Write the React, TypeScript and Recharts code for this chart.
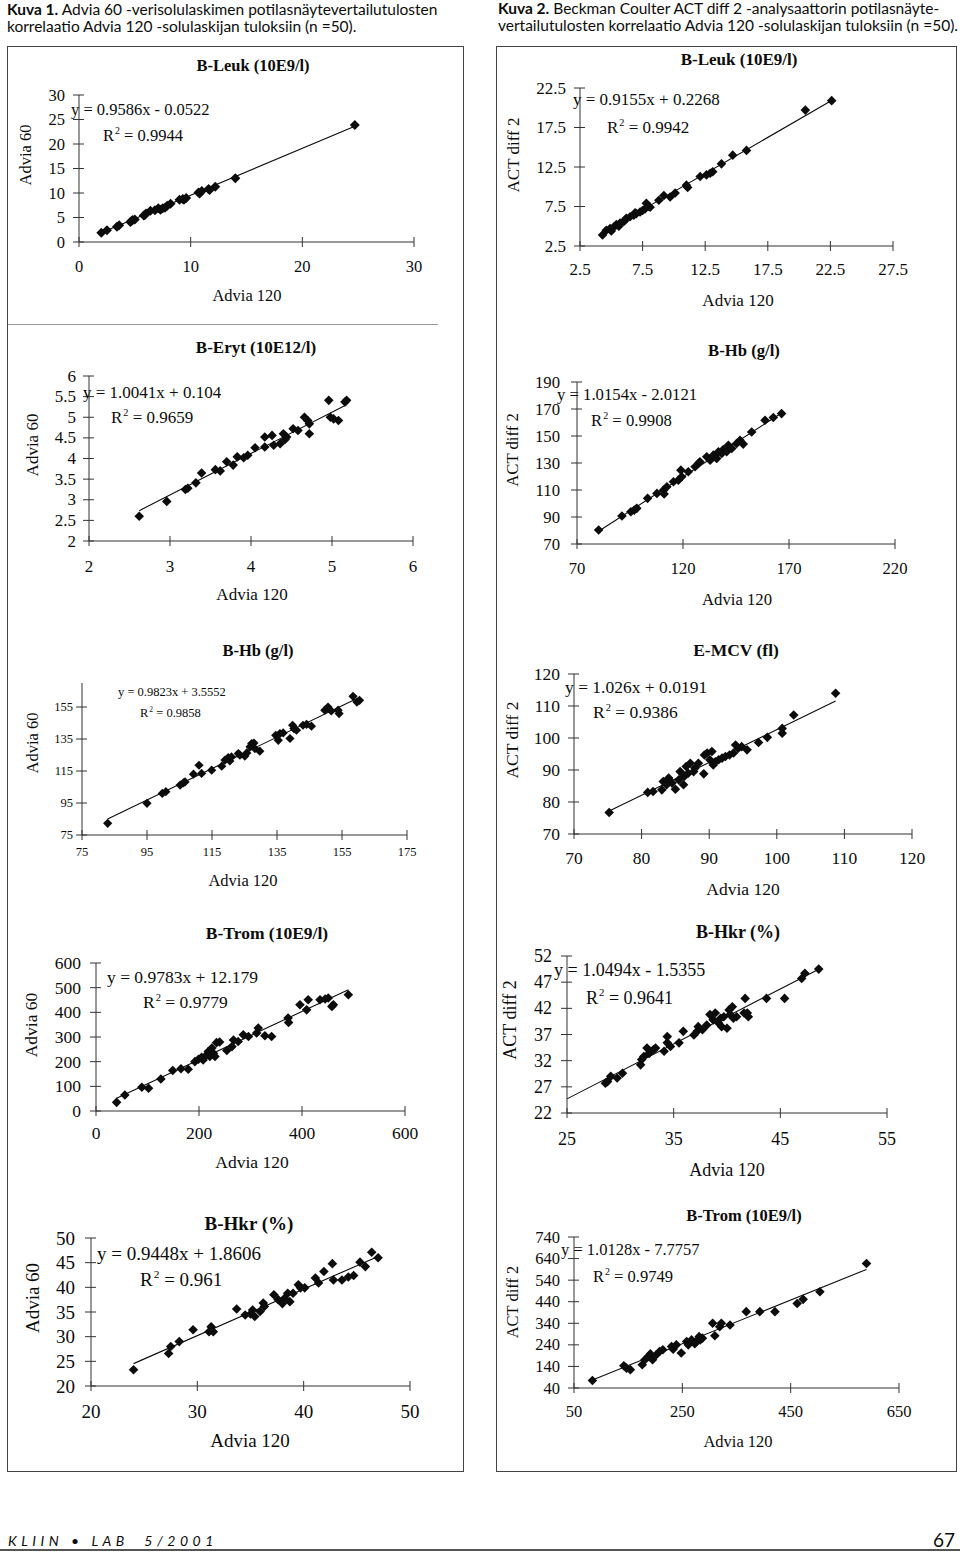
import React from 'react';
import { ScatterChart, Scatter, XAxis, YAxis, ReferenceLine } from 'recharts';

const SERIF = '"Liberation Serif", "Times New Roman", Times, serif';
const SANS = 'Lato, "Open Sans", "DejaVu Sans", sans-serif';
const INK = '#0c0c0c';
const AXIS = '#333333';

// ---------- Kuva 1 / B-Leuk (Advia 60 vs Advia 120) ----------
const leuk60X = [2.0, 2.5, 3.4, 3.6, 4.6, 4.7, 4.8, 5.0, 5.8, 5.9, 6.0, 6.4, 6.8, 7.1, 7.3, 7.5, 7.7, 7.9, 8.2, 9.0, 9.3, 9.4, 9.6, 10.7, 10.8, 11.0, 11.6, 11.7, 12.2, 14.0, 24.7];
const leuk60Y = [1.9, 2.4, 3.1, 3.4, 4.1, 4.3, 4.5, 4.6, 5.4, 5.5, 5.8, 6.4, 6.5, 6.9, 6.6, 6.9, 7.0, 7.4, 7.8, 8.6, 8.8, 8.6, 9.0, 10.1, 9.9, 10.4, 10.8, 10.6, 11.3, 13.0, 23.9];
const leuk60XTicks = [0, 10, 20, 30];
const leuk60YTicks = [0, 5, 10, 15, 20, 25, 30];
const leuk60Trend = [0.9586, -0.0522, 0.9944];

// ---------- Kuva 2 / B-Leuk (ACT diff 2 vs Advia 120) ----------
const leukActX = [4.3, 4.6, 4.9, 5.0, 5.2, 5.4, 5.6, 5.7, 6.0, 6.1, 6.2, 6.5, 6.8, 6.9, 7.0, 7.3, 7.5, 7.7, 7.8, 8.0, 8.1, 8.8, 9.2, 9.7, 10.1, 11.0, 11.1, 12.1, 12.6, 12.9, 13.1, 13.8, 14.7, 15.8, 20.5, 22.6];
const leukActY = [3.9, 4.5, 4.7, 4.4, 4.9, 5.2, 5.0, 5.4, 5.6, 5.8, 6.0, 6.2, 6.4, 6.7, 6.6, 6.8, 7.0, 7.2, 7.9, 7.5, 7.4, 8.3, 8.9, 8.7, 9.2, 10.2, 9.9, 11.3, 11.5, 11.7, 11.9, 12.9, 14.0, 14.6, 19.7, 20.9];
const leukActXTicks = [2.5, 7.5, 12.5, 17.5, 22.5, 27.5];
const leukActYTicks = [2.5, 7.5, 12.5, 17.5, 22.5];
const leukActTrend = [0.9155, 0.2268, 0.9942];

// ---------- B-Eryt ----------
const eryt60X = [2.62, 2.96, 3.19, 3.22, 3.32, 3.39, 3.56, 3.62, 3.70, 3.78, 3.83, 3.91, 3.96, 4.05, 4.17, 4.17, 4.26, 4.28, 4.36, 4.40, 4.42, 4.44, 4.52, 4.58, 4.66, 4.70, 4.72, 4.72, 4.96, 4.98, 5.02, 5.08, 5.16, 5.18];
const eryt60Y = [2.60, 2.96, 3.25, 3.28, 3.41, 3.65, 3.73, 3.70, 3.92, 3.84, 4.04, 4.02, 4.08, 4.26, 4.28, 4.52, 4.56, 4.32, 4.36, 4.60, 4.46, 4.52, 4.72, 4.68, 5.00, 4.92, 4.60, 4.84, 5.41, 5.00, 4.96, 4.92, 5.37, 5.41];
const eryt60XTicks = [2, 3, 4, 5, 6];
const eryt60YTicks = [2, 2.5, 3, 3.5, 4, 4.5, 5, 5.5, 6];
const eryt60Trend = [1.0041, 0.104, 0.9659];

// ---------- B-Hb (ACT diff 2) ----------
const hbActX = [80.2, 91.2, 95.4, 97.0, 98.2, 103.3, 107.7, 110.8, 111.1, 112.4, 115.5, 117.8, 119.4, 119.0, 122.5, 125.7, 127.3, 128.0, 131.2, 132.8, 134.3, 135.9, 136.7, 138.3, 139.0, 140.6, 141.4, 143.0, 145.3, 146.9, 148.4, 152.4, 158.7, 162.6, 166.5];
const hbActY = [80.4, 90.7, 93.9, 95.1, 96.4, 103.8, 107.5, 109.9, 107.0, 112.4, 116.1, 117.3, 119.8, 124.7, 123.5, 127.2, 129.7, 130.9, 134.6, 132.1, 135.8, 133.4, 138.3, 137.0, 140.0, 138.3, 143.2, 140.8, 144.5, 146.9, 144.0, 153.0, 161.7, 163.7, 166.6];
const hbActXTicks = [70, 120, 170, 220];
const hbActYTicks = [70, 90, 110, 130, 150, 170, 190];
const hbActTrend = [1.0154, -2.0121, 0.9908];

// ---------- B-Hb (Advia 60) ----------
const hb60X = [82.9, 95.0, 99.7, 100.8, 105.2, 106.2, 106.7, 109.3, 111.0, 111.8, 114.9, 118.0, 119.0, 120.0, 120.5, 121.0, 123.1, 123.6, 125.1, 125.7, 126.7, 127.2, 127.9, 128.2, 129.7, 134.6, 135.4, 135.9, 136.9, 139.0, 139.8, 140.2, 141.0, 143.0, 144.1, 145.6, 149.7, 150.7, 151.7, 153.8, 154.1, 158.4, 159.6, 160.4];
const hb60Y = [82.3, 94.8, 101.0, 102.1, 106.2, 107.6, 108.2, 113.0, 118.6, 113.5, 115.5, 118.0, 121.8, 123.4, 121.3, 123.8, 125.9, 124.9, 124.3, 126.3, 130.1, 132.2, 132.5, 129.0, 127.4, 137.3, 134.2, 138.4, 138.8, 135.3, 143.6, 141.5, 140.5, 143.6, 144.2, 143.0, 153.0, 155.0, 152.5, 153.0, 150.9, 161.7, 158.1, 159.2];
const hb60XTicks = [75, 95, 115, 135, 155, 175];
const hb60YTicks = [75, 95, 115, 135, 155];
const hb60YDomain = [75, 170];
const hb60Trend = [0.9823, 3.5552, 0.9858];

// ---------- E-MCV ----------
const mcvActX = [75.2, 80.9, 81.7, 83.0, 83.2, 83.7, 84.0, 84.5, 85.0, 85.5, 85.7, 86.2, 86.3, 86.6, 86.9, 87.2, 87.7, 87.9, 88.4, 89.2, 89.3, 89.7, 90.1, 90.4, 90.6, 90.9, 91.4, 91.9, 92.4, 93.0, 93.6, 93.9, 94.3, 94.8, 95.6, 97.3, 98.6, 100.8, 100.8, 102.5, 108.7];
const mcvActY = [76.7, 83.0, 83.3, 83.8, 86.4, 85.4, 87.5, 85.9, 84.0, 86.9, 89.5, 85.4, 88.0, 91.1, 89.0, 92.1, 89.5, 90.6, 92.1, 88.8, 94.7, 95.3, 93.2, 95.8, 91.6, 92.6, 93.2, 93.7, 94.2, 94.7, 95.3, 97.8, 96.8, 97.3, 96.3, 98.6, 100.2, 101.5, 103.0, 107.2, 114.0];
const mcvActTicks = [70, 80, 90, 100, 110, 120];
const mcvActTrend = [1.026, 0.0191, 0.9386];

// ---------- B-Trom (Advia 60) ----------
const trom60X = [40, 56, 89, 102, 126, 149, 165, 179, 192, 199, 205, 208, 215, 218, 221, 225, 228, 231, 234, 240, 254, 264, 267, 276, 286, 296, 312, 315, 328, 341, 373, 374, 396, 409, 412, 435, 445, 451, 458, 461, 490];
const trom60Y = [35, 65, 96, 92, 130, 164, 171, 169, 200, 210, 218, 207, 228, 241, 221, 255, 234, 221, 277, 280, 245, 261, 288, 282, 309, 302, 316, 336, 305, 302, 377, 359, 431, 410, 451, 451, 454, 458, 424, 431, 471];
const trom60XTicks = [0, 200, 400, 600];
const trom60YTicks = [0, 100, 200, 300, 400, 500, 600];
const trom60Trend = [0.9783, 12.179, 0.9779];

// ---------- B-Hkr (ACT diff 2) ----------
const hkrActX = [28.6, 28.8, 29.1, 29.7, 30.2, 31.9, 32.0, 32.2, 32.5, 32.7, 33.1, 33.3, 34.1, 34.4, 34.4, 34.7, 35.5, 35.9, 36.9, 37.2, 37.3, 37.7, 38.1, 38.4, 38.7, 38.9, 39.2, 39.4, 39.5, 39.7, 40.0, 40.2, 40.3, 40.5, 40.6, 40.9, 41.6, 41.7, 41.9, 42.0, 43.7, 45.4, 47.0, 47.3, 48.6];
const hkrActY = [27.7, 28.0, 29.0, 28.7, 29.6, 31.2, 32.2, 32.8, 34.4, 33.4, 34.1, 34.4, 33.8, 35.4, 36.6, 34.7, 35.4, 37.6, 36.9, 37.6, 38.5, 37.9, 38.8, 40.8, 39.8, 41.1, 39.2, 40.1, 38.5, 40.4, 38.2, 41.7, 40.8, 42.3, 40.1, 40.4, 41.1, 43.9, 41.1, 40.4, 43.9, 43.9, 47.7, 48.7, 49.5];
const hkrActXTicks = [25, 35, 45, 55];
const hkrActYTicks = [22, 27, 32, 37, 42, 47, 52];
const hkrActTrend = [1.0494, -1.5355, 0.9641];
const hkrActTrendStart = 25;

// ---------- B-Hkr (Advia 60) ----------
const hkr60X = [24.0, 27.3, 27.5, 28.3, 29.6, 31.1, 31.3, 31.5, 33.7, 34.5, 35.0, 35.2, 35.4, 35.9, 36.2, 36.3, 37.2, 37.6, 38.0, 38.2, 38.5, 38.7, 39.0, 39.5, 39.7, 40.1, 41.1, 41.4, 41.9, 42.7, 42.8, 43.6, 44.2, 44.7, 45.3, 45.8, 46.4, 47.0];
const hkr60Y = [23.3, 26.6, 28.0, 29.0, 31.4, 31.0, 32.0, 31.0, 35.6, 34.4, 34.6, 35.4, 34.1, 35.1, 36.8, 36.1, 38.5, 37.5, 36.7, 37.8, 38.8, 37.1, 38.8, 40.5, 39.9, 39.9, 41.9, 40.9, 43.2, 44.8, 41.5, 41.5, 42.1, 42.4, 45.1, 44.2, 47.1, 46.0];
const hkr60XTicks = [20, 30, 40, 50];
const hkr60YTicks = [20, 25, 30, 35, 40, 45, 50];
const hkr60Trend = [0.9448, 1.8606, 0.961];

// ---------- B-Trom (ACT diff 2) ----------
const tromActX = [84, 142, 147, 154, 176, 181, 187, 191, 195, 202, 208, 214, 230, 233, 239, 248, 258, 261, 267, 273, 276, 281, 283, 287, 306, 310, 319, 322, 338, 368, 393, 421, 462, 473, 504, 590];
const tromActY = [75, 143, 132, 125, 148, 171, 186, 198, 171, 194, 209, 217, 232, 220, 240, 202, 255, 240, 263, 245, 255, 278, 263, 271, 340, 282, 324, 340, 332, 394, 394, 394, 432, 451, 486, 617];
const tromActXTicks = [50, 250, 450, 650];
const tromActYTicks = [40, 140, 240, 340, 440, 540, 640, 740];
const tromActTrend = [1.0128, -7.7757, 0.9749];

type Spec = {
  title: string; yLabel: string;
  xs: number[]; ys: number[]; xTicks: number[]; yTicks: number[];
  yDomain?: number[]; trend: number[]; trendStart?: number;
  box: number[]; // px0, py0, px1, py1
  titlePos: number[]; yLabPos: number[]; xLabPos: number[]; eqPos: number[]; r2Pos: number[];
  fs: number; tickFs?: number; yGap: number; xDy: number; dot: number;
};

const specs: Spec[] = [
  { title: 'B-Leuk (10E9/l)', yLabel: 'Advia 60', xs: leuk60X, ys: leuk60Y, xTicks: leuk60XTicks, yTicks: leuk60YTicks, trend: leuk60Trend,
    box: [79, 95, 414, 242], titlePos: [253, 66], yLabPos: [26, 155], xLabPos: [247, 296], eqPos: [71, 110], r2Pos: [103, 136], fs: 16.5, yGap: 14, xDy: 24, dot: 5 },
  { title: 'B-Leuk (10E9/l)', yLabel: 'ACT diff 2', xs: leukActX, ys: leukActY, xTicks: leukActXTicks, yTicks: leukActYTicks, trend: leukActTrend,
    box: [580, 88, 893, 246], titlePos: [739, 59], yLabPos: [513, 155], xLabPos: [738, 300], eqPos: [573, 99], r2Pos: [607, 127], fs: 17, yGap: 14, xDy: 23, dot: 4.8 },
  { title: 'B-Eryt (10E12/l)', yLabel: 'Advia 60', xs: eryt60X, ys: eryt60Y, xTicks: eryt60XTicks, yTicks: eryt60YTicks, trend: eryt60Trend,
    box: [89, 376, 413, 541], titlePos: [256, 347], yLabPos: [32, 445], xLabPos: [252, 594], eqPos: [83, 392], r2Pos: [111, 417], fs: 17, yGap: 13, xDy: 25, dot: 4.8 },
  { title: 'B-Hb (g/l)', yLabel: 'ACT diff 2', xs: hbActX, ys: hbActY, xTicks: hbActXTicks, yTicks: hbActYTicks, trend: hbActTrend,
    box: [577, 382, 895, 544], titlePos: [744, 351], yLabPos: [513, 450], xLabPos: [737, 600], eqPos: [557, 395], r2Pos: [591, 421], fs: 16.7, yGap: 17, xDy: 24, dot: 4.8 },
  { title: 'B-Hb (g/l)', yLabel: 'Advia 60', xs: hb60X, ys: hb60Y, xTicks: hb60XTicks, yTicks: hb60YTicks, yDomain: hb60YDomain, trend: hb60Trend,
    box: [82, 683, 407, 835], titlePos: [258, 651], yLabPos: [33, 743], xLabPos: [243, 881], eqPos: [118, 692], r2Pos: [140, 713], fs: 16.5, tickFs: 12.5, yGap: 9, xDy: 17, dot: 4.6 },
  { title: 'E-MCV (fl)', yLabel: 'ACT diff 2', xs: mcvActX, ys: mcvActY, xTicks: mcvActTicks, yTicks: mcvActTicks, trend: mcvActTrend,
    box: [574, 674, 912, 834], titlePos: [736, 651], yLabPos: [513, 740], xLabPos: [743, 890], eqPos: [565, 688], r2Pos: [593, 713], fs: 17.5, yGap: 14, xDy: 24, dot: 4.8 },
  { title: 'B-Trom (10E9/l)', yLabel: 'Advia 60', xs: trom60X, ys: trom60Y, xTicks: trom60XTicks, yTicks: trom60YTicks, trend: trom60Trend,
    box: [96, 963, 405, 1111], titlePos: [267, 934], yLabPos: [32, 1025], xLabPos: [252, 1163], eqPos: [107, 978], r2Pos: [143, 1003], fs: 17.5, yGap: 15, xDy: 22, dot: 4.8 },
  { title: 'B-Hkr (%)', yLabel: 'ACT diff 2', xs: hkrActX, ys: hkrActY, xTicks: hkrActXTicks, yTicks: hkrActYTicks, trend: hkrActTrend, trendStart: hkrActTrendStart,
    box: [567, 956, 887, 1113], titlePos: [738, 932], yLabPos: [510, 1020], xLabPos: [727, 1170], eqPos: [554, 970], r2Pos: [586, 998], fs: 18, yGap: 15, xDy: 26, dot: 4.8 },
  { title: 'B-Hkr (%)', yLabel: 'Advia 60', xs: hkr60X, ys: hkr60Y, xTicks: hkr60XTicks, yTicks: hkr60YTicks, trend: hkr60Trend,
    box: [91, 1238, 410, 1386], titlePos: [249, 1223], yLabPos: [32, 1298], xLabPos: [250, 1440], eqPos: [97, 1253], r2Pos: [140, 1279], fs: 19, yGap: 16, xDy: 25, dot: 4.8 },
  { title: 'B-Trom (10E9/l)', yLabel: 'ACT diff 2', xs: tromActX, ys: tromActY, xTicks: tromActXTicks, yTicks: tromActYTicks, trend: tromActTrend,
    box: [574, 1237, 899, 1388], titlePos: [744, 1216], yLabPos: [513, 1302], xLabPos: [738, 1442], eqPos: [561, 1250], r2Pos: [593, 1277], fs: 16.5, yGap: 14, xDy: 23, dot: 4.8 },
];

const PAD_L = 70, PAD_R = 20, PAD_T = 15, PAD_B = 35;

function Txt(props: { x: number; y: number; size: number; bold?: boolean; start?: boolean; rotate?: boolean; children: React.ReactNode }) {
  const { x, y, size, bold, start, rotate, children } = props;
  return (
    <div style={{
      position: 'absolute', left: x, top: y,
      transform: `translate(${start ? '0' : '-50%'}, -50%)${rotate ? ' rotate(-90deg)' : ''}`,
      fontFamily: SERIF, fontSize: size, fontWeight: bold ? 700 : 400, whiteSpace: 'nowrap', lineHeight: 1, color: INK,
    }}>{children}</div>
  );
}

function fmtEq(t: number[]) {
  const b = t[1];
  return `y = ${t[0]}x ${b < 0 ? '-' : '+'} ${Math.abs(b)}`;
}

function Panel({ s }: { s: Spec }) {
  const [px0, py0, px1, py1] = s.box;
  const W = px1 - px0 + PAD_L + PAD_R;
  const H = py1 - py0 + PAD_T + PAD_B;
  const data = s.xs.map((x, i) => ({ x, y: s.ys[i] }));
  const tfs = s.tickFs ?? s.fs;
  const xDomain = [s.xTicks[0], s.xTicks[s.xTicks.length - 1]];
  const yDomain = s.yDomain ?? [s.yTicks[0], s.yTicks[s.yTicks.length - 1]];
  const t0 = s.trendStart ?? Math.min(...s.xs);
  const t1 = Math.max(...s.xs);
  const seg = [{ x: t0, y: s.trend[0] * t0 + s.trend[1] }, { x: t1, y: s.trend[0] * t1 + s.trend[1] }];

  const XTick = (p: any) => (
    <g>
      <line x1={p.x} x2={p.x} y1={p.y - 5} y2={p.y + 5} stroke={AXIS} strokeWidth={1} />
      <text x={p.x} y={p.y + s.xDy} textAnchor="middle" dominantBaseline="central" fontFamily={SERIF} fontSize={tfs} fill={INK}>{p.payload.value}</text>
    </g>
  );
  const YTick = (p: any) => (
    <g>
      <line x1={p.x - 6} x2={p.x + 5} y1={p.y} y2={p.y} stroke={AXIS} strokeWidth={1} />
      <text x={p.x - s.yGap} y={p.y} textAnchor="end" dominantBaseline="central" fontFamily={SERIF} fontSize={tfs} fill={INK}>{p.payload.value}</text>
    </g>
  );
  const Diamond = (p: any) => {
    const r = s.dot;
    return <path d={`M${p.cx},${p.cy - r}L${p.cx + r},${p.cy}L${p.cx},${p.cy + r}L${p.cx - r},${p.cy}Z`} fill={INK} />;
  };

  return (
    <>
      <div style={{ position: 'absolute', left: px0 - PAD_L, top: py0 - PAD_T }}>
        <ScatterChart width={W} height={H} margin={{ top: PAD_T, right: PAD_R, bottom: 0, left: 0 }}>
          <XAxis type="number" dataKey="x" domain={xDomain} ticks={s.xTicks} interval={0} height={PAD_B}
            tickSize={0} tickMargin={0} tickLine={false} axisLine={{ stroke: AXIS, strokeWidth: 1 }} tick={XTick} allowDataOverflow />
          <YAxis type="number" dataKey="y" domain={yDomain} ticks={s.yTicks} interval={0} width={PAD_L}
            tickSize={0} tickMargin={0} tickLine={false} axisLine={{ stroke: AXIS, strokeWidth: 1 }} tick={YTick} allowDataOverflow />
          <ReferenceLine segment={seg} stroke={INK} strokeWidth={1.1} ifOverflow="visible" />
          <Scatter data={data} shape={Diamond} isAnimationActive={false} />
        </ScatterChart>
      </div>
      <Txt x={s.titlePos[0]} y={s.titlePos[1]} size={s.fs} bold>{s.title}</Txt>
      <Txt x={s.yLabPos[0]} y={s.yLabPos[1]} size={s.fs} rotate>{s.yLabel}</Txt>
      <Txt x={s.xLabPos[0]} y={s.xLabPos[1]} size={s.fs}>Advia 120</Txt>
      <Txt x={s.eqPos[0]} y={s.eqPos[1]} size={tfs} start>{fmtEq(s.trend)}</Txt>
      <Txt x={s.r2Pos[0]} y={s.r2Pos[1]} size={tfs} start>
        R<span style={{ fontSize: '0.6em', position: 'relative', top: '-0.7em', marginLeft: 1 }}>2</span> = {s.trend[2]}
      </Txt>
    </>
  );
}

function HeadLine({ x, y, bold, text }: { x: number; y: number; bold?: string; text: string }) {
  return (
    <div style={{ position: 'absolute', left: x, top: y, transform: 'translateY(-50%)', fontFamily: SANS, fontSize: 15.5, lineHeight: 1, whiteSpace: 'nowrap', color: INK }}>
      {bold ? <b>{bold}</b> : null}{text}
    </div>
  );
}

export default function App() {
  return (
    <div style={{ position: 'absolute', left: 0, top: 0, width: 960, height: 1554, background: '#fff', overflow: 'hidden' }}>
      <HeadLine x={7} y={10} bold="Kuva 1." text=" Advia 60 -verisolulaskimen potilasnäytevertailutulosten" />
      <HeadLine x={7} y={27} text="korrelaatio Advia 120 -solulaskijan tuloksiin (n =50)." />
      <HeadLine x={498} y={9} bold="Kuva 2." text=" Beckman Coulter ACT diff 2 -analysaattorin potilasnäyte-" />
      <HeadLine x={498} y={26} text="vertailutulosten korrelaatio Advia 120 -solulaskijan tuloksiin (n =50)." />

      <div style={{ position: 'absolute', left: 7, top: 46, width: 455, height: 1424, border: '1.5px solid #444' }} />
      <div style={{ position: 'absolute', left: 496, top: 46, width: 459, height: 1424, border: '1.5px solid #444' }} />
      <div style={{ position: 'absolute', left: 8, top: 324, width: 430, height: 1, background: '#999' }} />

      {specs.map((s, i) => <Panel key={i} s={s} />)}

      <div style={{ position: 'absolute', left: 8, top: 1540, transform: 'translateY(-50%)', fontFamily: SANS, fontStyle: 'italic', fontSize: 14, letterSpacing: 4.5, whiteSpace: 'nowrap', color: INK }}>
        KLIIN • LAB&nbsp;&nbsp;5/2001
      </div>
      <div style={{ position: 'absolute', right: 5, top: 1539, transform: 'translateY(-50%)', fontFamily: SANS, fontSize: 19, whiteSpace: 'nowrap', color: INK }}>67</div>
      <div style={{ position: 'absolute', left: 0, top: 1549, width: 960, height: 2, background: '#555' }} />
    </div>
  );
}
